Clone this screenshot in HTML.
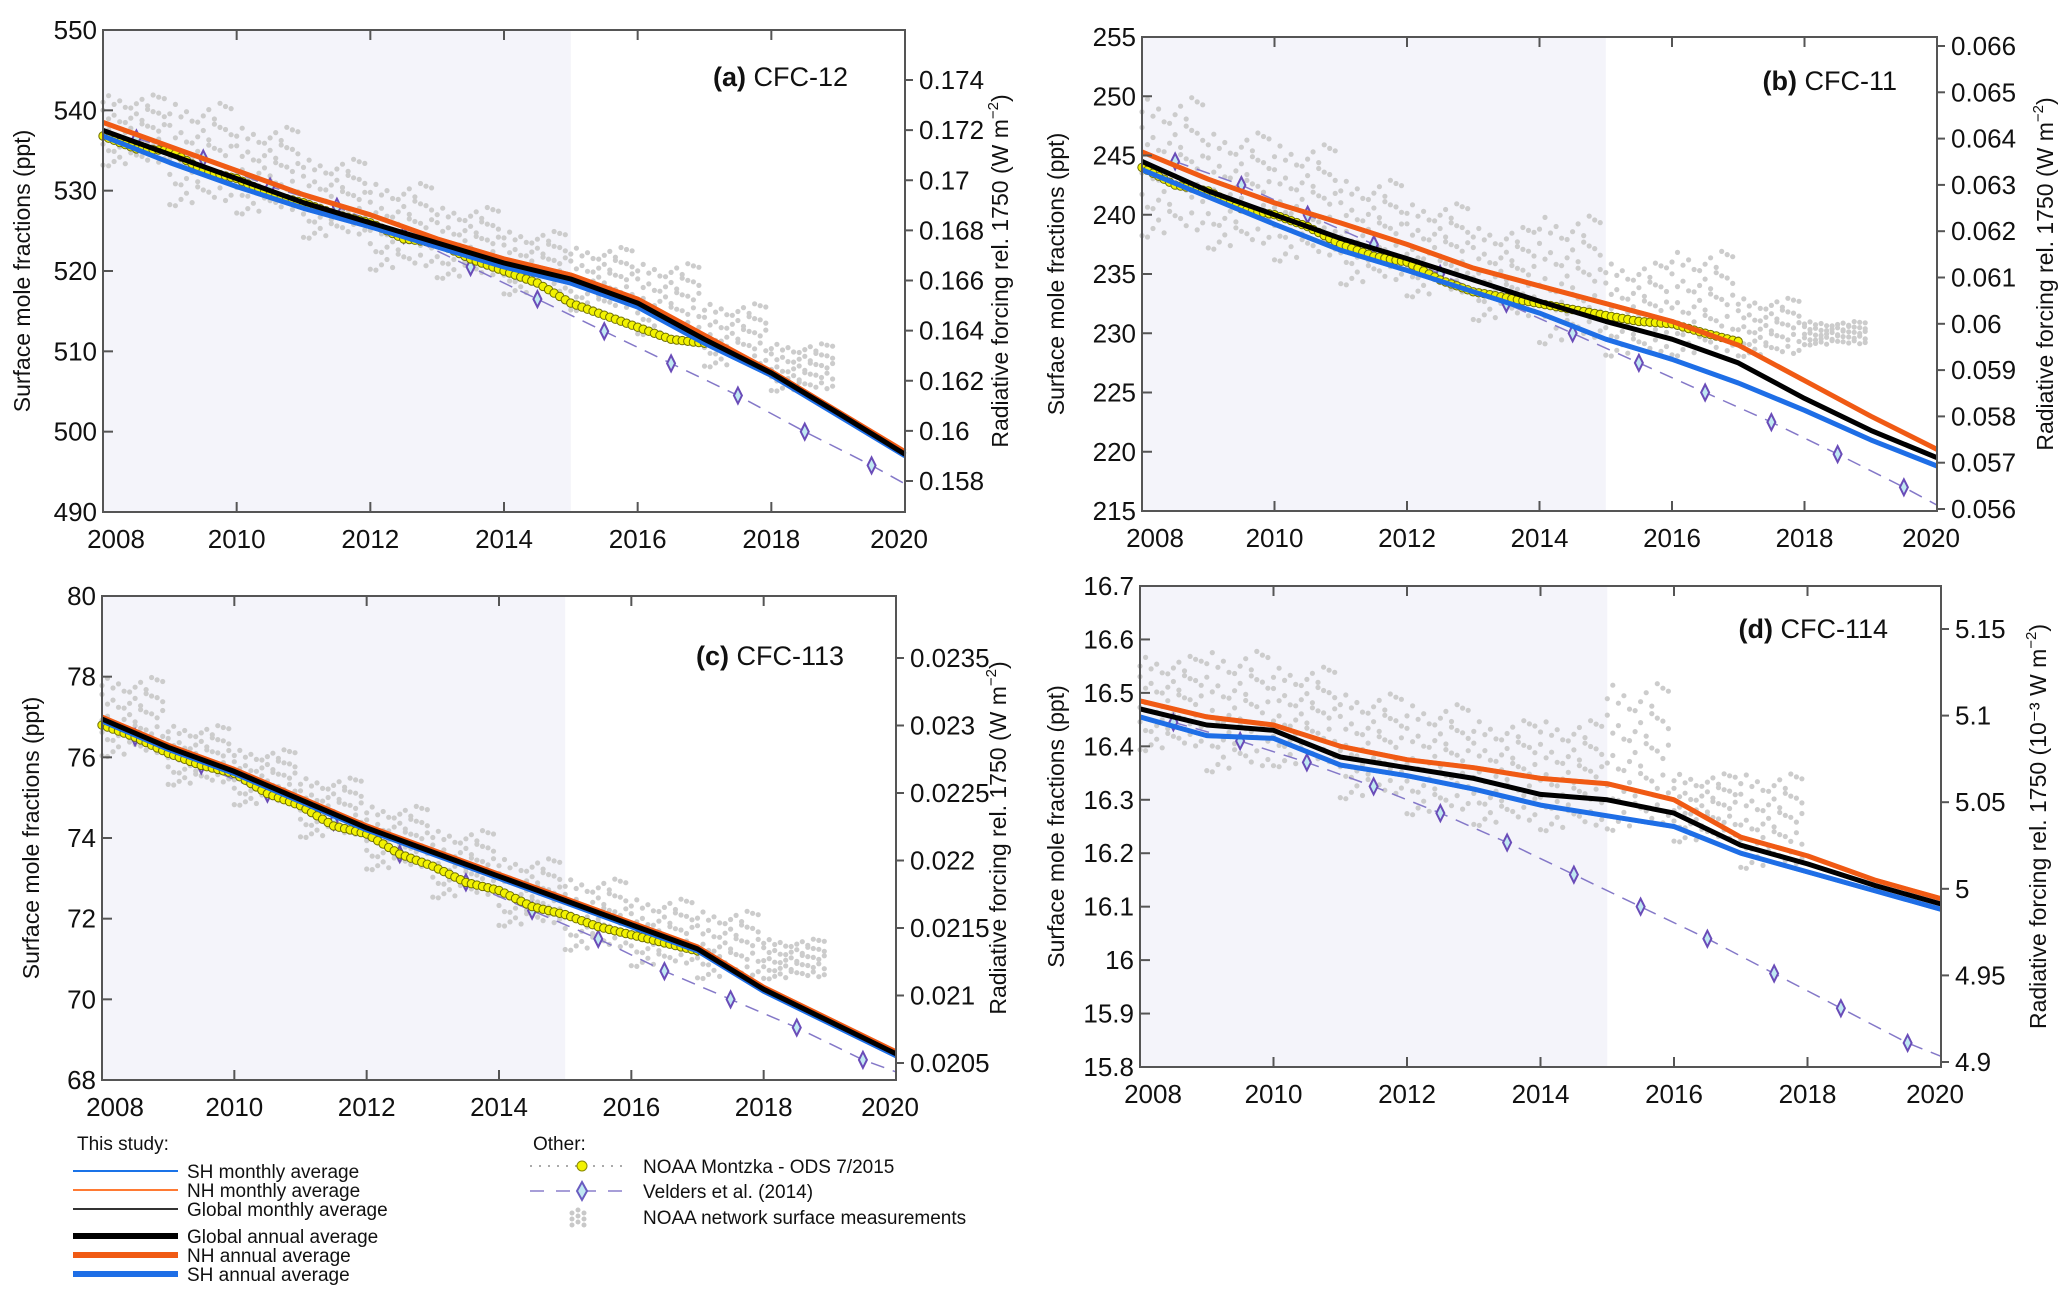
<!DOCTYPE html>
<html><head><meta charset="utf-8"><style>
html,body{margin:0;padding:0;background:#fff;}
svg{display:block;}
text{font-family:"Liberation Sans Narrow","Liberation Sans",sans-serif;fill:#111;}
.ttl{font-family:"Liberation Sans",sans-serif;font-size:23px;}
.leg{font-family:"Liberation Sans Narrow","Liberation Sans",sans-serif;font-size:19px;}
</style></head><body>
<svg id="fig" width="2067" height="1302" viewBox="0 0 2067 1302" xmlns="http://www.w3.org/2000/svg"></svg>
<script>
// ---------- DATA ----------
const years = [2008,2009,2010,2011,2012,2013,2014,2015,2016,2017,2018,2019,2020];
const veldersYears = [2008.5,2009.5,2010.5,2011.5,2012.5,2013.5,2014.5,2015.5,2016.5,2017.5,2018.5,2019.5,2020];
const montzkaYears = [2008,2008.5,2009,2009.5,2010,2010.5,2011,2011.5,2012,2012.5,2013,2013.5,2014,2014.5,2015,2015.5,2016,2016.5,2017];
const scatterYears = [2008,2009,2010,2011,2012,2013,2014,2015,2016,2017,2018];

// (a) CFC-12
const a_nh = [538.5,535.5,532.5,529.5,527,524,521.5,519.5,516.5,512,507.5,502.5,497.5];
const a_gl = [537.5,534.5,531.5,528.5,526,523.5,521,519,516,511.5,507.3,502.3,497.2];
const a_sh = [536.8,533.5,530.5,527.8,525.5,523,520.5,518.5,515.5,511,507,502,497];
const a_montzka = [536.8,535.2,535,532.5,531.5,529.5,528.5,527,526,524,523.5,521.5,520,518.5,516,514.5,513,511.5,511];
const a_velders = [536.5,534,530.5,528,524.5,520.5,516.5,512.5,508.5,504.5,500,495.8,493.5];
const a_scLo = [533,528,527,524,520,519,517,515,512,508,505];
const a_scHi = [542,541,538,534,531,528,525,523,521,516,511];

// (b) CFC-11
const b_nh = [245.3,243,241,239.3,237.5,235.5,234,232.5,231,229,226,223,220.2];
const b_gl = [244.5,242,240,238,236.3,234.5,232.7,231,229.5,227.5,224.5,221.8,219.5];
const b_sh = [243.8,241.5,239.2,237,235.3,233.5,231.7,229.5,227.8,225.8,223.5,221,218.8];
const b_montzka = [244,242.5,242,240.5,240,239,237.5,236.5,236,234.5,233.5,233,232.5,232,231.5,231,230.8,230,229.3];
const b_velders = [244.5,242.5,240,237.5,235,232.5,230,227.5,225,222.5,219.8,217,215.5];
const b_scLo = [238,237,236,234,233,231,229,228,228,228,229];
const b_scHi = [250,247,246,243,241,239,240,236,237,233,231];

// (c) CFC-113
const c_nh = [77.0,76.3,75.7,75.0,74.3,73.7,73.1,72.5,71.9,71.3,70.3,69.5,68.7];
const c_gl = [76.95,76.25,75.65,74.95,74.25,73.65,73.05,72.45,71.85,71.25,70.25,69.45,68.65];
const c_sh = [76.9,76.2,75.6,74.9,74.2,73.6,73.0,72.4,71.8,71.2,70.2,69.4,68.6];
const c_montzka = [76.8,76.5,76.1,75.8,75.6,75.1,74.8,74.3,74.1,73.6,73.3,72.9,72.7,72.3,72.1,71.8,71.6,71.4,71.2];
const c_velders = [76.5,75.8,75.1,74.4,73.6,72.9,72.2,71.5,70.7,70.0,69.3,68.5,68.2];
const c_scLo = [76,75.3,74.8,74,73.2,72.5,71.8,71.2,70.8,70.5,70.5];
const c_scHi = [78,76.8,76.2,75.5,74.8,74.2,73.5,73,72.5,72.2,71.5];

// (d) CFC-114
const d_nh = [16.485,16.455,16.44,16.40,16.375,16.36,16.34,16.33,16.30,16.23,16.195,16.15,16.115];
const d_gl = [16.47,16.44,16.43,16.38,16.36,16.34,16.31,16.30,16.275,16.215,16.18,16.14,16.105];
const d_sh = [16.455,16.42,16.415,16.365,16.345,16.32,16.29,16.27,16.25,16.20,16.165,16.13,16.095];
const d_velders = [16.445,16.41,16.37,16.325,16.275,16.22,16.16,16.10,16.04,15.975,15.91,15.845,15.82];
const d_scLo = [16.39,16.35,16.36,16.30,16.27,16.25,16.24,16.24,16.22,16.17,16.17];
const d_scHi = [16.57,16.58,16.55,16.50,16.48,16.45,16.45,16.52,16.35,16.35,16.17];

const xTicks = [2008,2010,2012,2014,2016,2018,2020];
const a_yTicks = [490,500,510,520,530,540,550];
const a_rTicks = ["0.174","0.172","0.17","0.168","0.166","0.164","0.162","0.16","0.158"];
const b_yTicks = [215,220,225,230,235,240,245,250,255];
const b_rTicks = ["0.066","0.065","0.064","0.063","0.062","0.061","0.06","0.059","0.058","0.057","0.056"];
const c_yTicks = [68,70,72,74,76,78,80];
const c_rTicks = ["0.0235","0.023","0.0225","0.022","0.0215","0.021","0.0205"];
const d_yTicks = ["15.8","15.9","16","16.1","16.2","16.3","16.4","16.5","16.6","16.7"];
const d_rTicks = ["5.15","5.1","5.05","5","4.95","4.9"];

// ---------- LAYOUT ----------
const panels = [
 {id:'a',x0:103,x1:905,y0:30,y1:512,ymin:490,ymax:550,yt:a_yTicks,rt:a_rTicks,rTop:80,rBot:481,
  nh:a_nh,gl:a_gl,sh:a_sh,mz:a_montzka,vd:a_velders,lo:a_scLo,hi:a_scHi,label:'CFC-12',lx:848,ly:86,ltx:24,rtx:1002,runit:'(W m'},
 {id:'b',x0:1142,x1:1937,y0:37,y1:511,ymin:215,ymax:255,yt:b_yTicks,rt:b_rTicks,rTop:46,rBot:509,
  nh:b_nh,gl:b_gl,sh:b_sh,mz:b_montzka,vd:b_velders,lo:b_scLo,hi:b_scHi,label:'CFC-11',lx:1897,ly:90,ltx:1058,rtx:2047,runit:'(W m'},
 {id:'c',x0:102,x1:896,y0:596,y1:1080,ymin:68,ymax:80,yt:c_yTicks,rt:c_rTicks,rTop:658,rBot:1063,
  nh:c_nh,gl:c_gl,sh:c_sh,mz:c_montzka,vd:c_velders,lo:c_scLo,hi:c_scHi,label:'CFC-113',lx:844,ly:665,ltx:33,rtx:1000,runit:'(W m'},
 {id:'d',x0:1140,x1:1941,y0:586,y1:1067,ymin:15.8,ymax:16.7,yt:d_yTicks,rt:d_rTicks,rTop:629,rBot:1062,
  nh:d_nh,gl:d_gl,sh:d_sh,mz:null,vd:d_velders,lo:d_scLo,hi:d_scHi,label:'CFC-114',lx:1888,ly:638,ltx:1058,rtx:2040,runit:'(10⁻³ W m'}
];

const NS='http://www.w3.org/2000/svg';
const svg=document.getElementById('fig');
function mk(tag,attrs,parent,txt){const e=document.createElementNS(NS,tag);for(const k in attrs)e.setAttribute(k,attrs[k]);if(txt!==undefined)e.textContent=txt;(parent||svg).appendChild(e);return e;}
function pathFrom(xs,ys,sx,sy){return xs.map((x,i)=>(i?'L':'M')+sx(x).toFixed(1)+','+sy(ys[i]).toFixed(1)).join(' ');}
function interp(xs,ys,x){for(let i=0;i<xs.length-1;i++){if(x>=xs[i]&&x<=xs[i+1]){const t=(x-xs[i])/(xs[i+1]-xs[i]);return ys[i]+t*(ys[i+1]-ys[i]);}}return ys[ys.length-1];}
const jit=[0.1,0.7,0.35,0.9,0.2,0.55,0.8,0.05,0.45,0.65,0.3,0.95];

panels.forEach(p=>{
  const g=mk('g',{});
  
  
  const sx=v=>p.x0+(v-2008)/12*(p.x1-p.x0);
  const sy=v=>p.y1-(v-p.ymin)/(p.ymax-p.ymin)*(p.y1-p.y0);
  const sh=mk('rect',{x:p.x0,y:p.y0,width:sx(2015)-p.x0,height:p.y1-p.y0,fill:'#f4f4fa'},g);
  
  
  const sg=mk('g',{fill:'#cccccc'},g);
  
  
  scatterYears.forEach((yr,i)=>{
    if(p.lo[i]===undefined||p.hi[i]<=p.lo[i])return;
    for(let m=0;m<12;m++){
      for(let r=0;r<5;r++){
        const f=(r+jit[(m*7+r*5)%12])/5;
        const v=p.lo[i]+(p.hi[i]-p.lo[i])*f;
        const c=mk('circle',{cx:sx(yr+m/12).toFixed(1),cy:sy(v).toFixed(1),r:2.6},sg);
        
        
      }
    }
  });
  const vl=mk('path',{d:pathFrom(veldersYears,p.vd,sx,sy),fill:'none',stroke:'#8478c8','stroke-width':1.5,'stroke-dasharray':'14 9'},g);
  
  
  veldersYears.slice(0,-1).forEach((yr,i)=>{
    const X=sx(yr),Y=sy(p.vd[i]);
    const dm=mk('path',{d:`M${X},${Y-8}L${X+4},${Y}L${X},${Y+8}L${X-4},${Y}Z`,fill:'#bfe8f2',stroke:'#6a4cb8','stroke-width':2},g);
    
    
  });
  [[p.sh,'#1a73e8',0.4],[p.nh,'#ff7a33',-0.4],[p.gl,'#333',0]].forEach(([arr,col,off])=>{
    const l=mk('path',{d:pathFrom(years,arr,sx,sy),fill:'none',stroke:col,'stroke-width':1.5,transform:`translate(0,${off*4})`},g);
    
    
  });
  if(p.mz){
    const mg=mk('g',{},g);
    
    
    for(let t=2008;t<=montzkaYears[montzkaYears.length-1]+1e-6;t+=1/12){
      const c=mk('circle',{cx:sx(t).toFixed(1),cy:sy(interp(montzkaYears,p.mz,t)).toFixed(1),r:4.2,fill:'#f2f200',stroke:'#707000','stroke-width':1},mg);
      
      
    }
  }
  [[p.sh,'#1e6ee6','sh-annual-line'],[p.nh,'#f05a14','nh-annual-line'],[p.gl,'#000','global-annual-line']].forEach(([arr,col,nm])=>{
    const l=mk('path',{d:pathFrom(years,arr,sx,sy),fill:'none',stroke:col,'stroke-width':5,'stroke-linejoin':'round'},g);
    
    
  });
  const fr=mk('rect',{x:p.x0,y:p.y0,width:p.x1-p.x0,height:p.y1-p.y0,fill:'none',stroke:'#555','stroke-width':2},g);
  
  
  xTicks.forEach(t=>{
    const X=sx(t);
    mk('line',{x1:X,x2:X,y1:p.y1,y2:p.y1-10,stroke:'#555','stroke-width':2},g);
    mk('line',{x1:X,x2:X,y1:p.y0,y2:p.y0+10,stroke:'#555','stroke-width':2},g);
    const tx=mk('text',{x:X+(t===2008?13:t===2020?-6:0),y:p.y1+36,'text-anchor':'middle','font-size':26},g,String(t));
    
    
  });
  p.yt.forEach(t=>{
    const Y=sy(+t);
    mk('line',{x1:p.x0,x2:p.x0+10,y1:Y,y2:Y,stroke:'#555','stroke-width':2},g);
    const tx=mk('text',{x:p.x0-6,y:Y+9,'text-anchor':'end','font-size':26},g,String(t));
    
    
  });
  p.rt.forEach((t,i)=>{
    const Y=p.rTop+i*(p.rBot-p.rTop)/(p.rt.length-1);
    mk('line',{x1:p.x1,x2:p.x1+8,y1:Y,y2:Y,stroke:'#555','stroke-width':2},g);
    const tx=mk('text',{x:p.x1+14,y:Y+9,'font-size':26},g,t);
    
    
  });
  const cy=(p.y0+p.y1)/2;
  const lt=mk('text',{x:p.ltx,y:cy,'text-anchor':'middle',class:'ttl',transform:`rotate(-90 ${p.ltx} ${cy})`,'dominant-baseline':'middle'},g,'Surface mole fractions (ppt)');
  
  
  const rt=mk('text',{x:p.rtx,y:cy,'text-anchor':'middle',class:'ttl',transform:`rotate(-90 ${p.rtx} ${cy})`,'dominant-baseline':'middle'},g);
  
  
  rt.textContent='Radiative forcing rel. 1750 '+p.runit;
  mk('tspan',{dy:-8,'font-size':15},rt,'−2');
  mk('tspan',{dy:8},rt,')');
  const pl=mk('text',{x:p.lx,y:p.ly,'text-anchor':'end','font-size':27},g);
  
  
  mk('tspan',{'font-weight':'bold'},pl,'('+p.id+')');
  mk('tspan',{},pl,' '+p.label);
});

// ---------- LEGEND ----------
const lg=mk('g',{});


function legText(x,y,s){const t=mk('text',{x:x,y:y,class:'leg'},lg,s);return t;}
legText(77,1150,'This study:');
[[1171,'#1a73e8',2,'SH monthly average'],[1190,'#ff7a33',2,'NH monthly average'],[1209,'#333',2,'Global monthly average'],
 [1236,'#000',6,'Global annual average'],[1255,'#f05a14',6,'NH annual average'],[1274,'#1e6ee6',6,'SH annual average']].forEach(([y,c,w,s])=>{
  const l=mk('line',{x1:73,x2:178,y1:y,y2:y,stroke:c,'stroke-width':w},lg);
  
  
  legText(187,y+7,s);
});
legText(533,1150,'Other:');
mk('line',{x1:530,x2:628,y1:1166,y2:1166,stroke:'#aaa','stroke-width':2,'stroke-dasharray':'2 7'},lg);
mk('circle',{cx:582,cy:1166,r:5,fill:'#f2f200',stroke:'#888800'},lg);
legText(643,1173,'NOAA Montzka - ODS 7/2015');
mk('line',{x1:530,x2:628,y1:1191,y2:1191,stroke:'#a79ed8','stroke-width':2,'stroke-dasharray':'14 12'},lg);
mk('path',{d:'M582,1182L587,1191L582,1200L577,1191Z',fill:'#bfe8f2',stroke:'#6a5cc0','stroke-width':2},lg);
legText(643,1198,'Velders et al. (2014)');
[[572,1213],[578,1210],[584,1213],[572,1219],[578,1216],[584,1219],[578,1222],[584,1225],[572,1225]].forEach(([x,y])=>mk('circle',{cx:x,cy:y,r:2.5,fill:'#c8c8c8'},lg));
legText(643,1224,'NOAA network surface measurements');
</script>
</body></html>
